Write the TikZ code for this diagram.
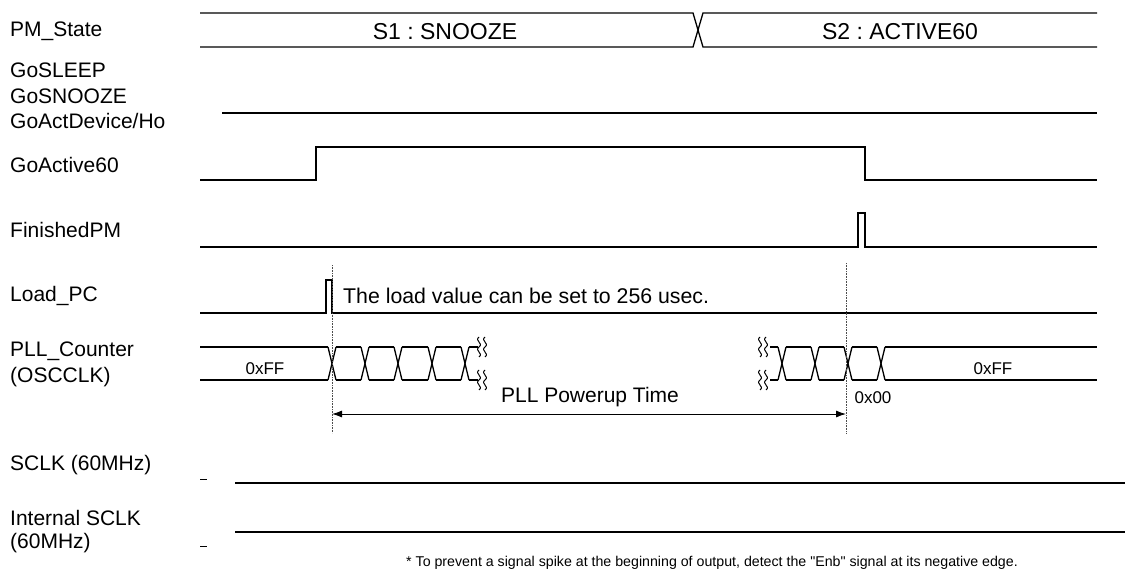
\documentclass[tikz,border=0pt]{standalone}
\usepackage{fontspec}
\setmainfont{Liberation Sans}
\usepackage{tikz}
\usetikzlibrary{arrows.meta,positioning}
\tikzset{
  wave/.style={line width=1.3pt, line join=miter},
  lbl/.style={anchor=west, inner sep=0, font=\fontsize{21}{25}\selectfont, align=left},
  statelbl/.style={inner sep=0, font=\fontsize{23}{26}\selectfont},
  buslbl/.style={inner sep=0, font=\fontsize{17}{20}\selectfont},
  marker/.style={densely dotted, line width=0.6pt, black!70},
}
\frenchspacing
% small wavy break mark on a bus rail
\newcommand{\wavybreak}[2]{%
  \foreach \dx in {0,6}{%
    \draw[line width=1pt] (#1+\dx,#2-10) .. controls (#1+\dx-5,#2-6) and (#1+\dx+5,#2-4) .. (#1+\dx,#2)
      .. controls (#1+\dx-5,#2+4) and (#1+\dx+5,#2+6) .. (#1+\dx,#2+10);}}

\begin{document}
\begin{tikzpicture}[x=1pt, y=-1pt]
      \useasboundingbox (0,0) rectangle (1125,570);
      % Signal names
      \node[lbl] (pmstate) at (10,31) {PM\_State};
      \node[lbl] (gosleep) at (10,70) {GoSLEEP};
      \node[lbl] (gosnooze) at (10,96) {GoSNOOZE};
      \node[lbl] (goactdev) at (10,121) {GoActDevice/Ho};
      \node[lbl] (goact) at (10,165) {GoActive60};
      \node[lbl] (finpm) at (10,230) {FinishedPM};
      \node[lbl] (loadpc) at (10,296) {Load\_PC};
      \node[lbl] (pllcnt) at (10,351) {PLL\_Counter};
      \node[lbl] (oscclk) at (10,377) {(OSCCLK)};
      \node[lbl] (sclk) at (10,465) {SCLK (60MHz)};
      \node[lbl] (isclk) at (10,518) {Internal SCLK};
      \node[lbl] (isclkf) at (10,543) {(60MHz)};
      % PM_State bus
      \draw[wave] (200,13) -- (693,13) -- (703,47) -- (1097,47);
      \draw[wave] (200,47) -- (693,47) -- (703,13) -- (1097,13);
      \node[statelbl] (snooze) at (445,32) {S1 : SNOOZE};
      \node[statelbl] (active) at (900,32) {S2 : ACTIVE60};
      % GoSLEEP / GoSNOOZE / GoActDevice
      \draw[wave] (222,113) -- (1097,113);
      % GoActive60
      \draw[wave] (200,180) -- (316,180) -- (316,147) -- (865,147) -- (865,180) -- (1097,180);
      % FinishedPM
      \draw[wave] (200,247) -- (858,247) -- (858,213) -- (865,213) -- (865,247) -- (1097,247);
      % Load_PC
      \draw[wave] (200,313) -- (326,313) -- (326,280) -- (332,280) -- (332,313) -- (1097,313);
      \node[lbl, font=\fontsize{21.3}{25}\selectfont] (loadnote) at (343,296) {The load value can be set to 256 usec.};
      % PLL_Counter, left part
      \draw[wave] (200,347) -- (328,347);
      \draw[wave] (200,380) -- (328,380);
      \node[buslbl] (ffleft) at (265,369) {0xFF};
      \foreach \c in {332,365,398,432,465}{
        \draw[wave] (\c-4,347) -- (\c+4,380);
        \draw[wave] (\c-4,380) -- (\c+4,347);
      }
      \foreach \a/\b in {336/361,369/394,402/428,436/461,469/478}{
        \draw[wave] (\a,347) -- (\b,347);
        \draw[wave] (\a,380) -- (\b,380);
      }
      \wavybreak{479}{347}
      \wavybreak{479}{380}
      % PLL_Counter, right part
      \wavybreak{760}{347}
      \wavybreak{760}{380}
      \foreach \c in {782,815,848,881}{
        \draw[wave] (\c-4,347) -- (\c+4,380);
        \draw[wave] (\c-4,380) -- (\c+4,347);
      }
      \foreach \a/\b in {770/778,786/811,819/844,852/877,885/1097}{
        \draw[wave] (\a,347) -- (\b,347);
        \draw[wave] (\a,380) -- (\b,380);
      }
      \node[buslbl] (ffright) at (993,369) {0xFF};
      \node[buslbl] (zero) at (873,398) {0x00};
      % Powerup time markers
      \coordinate (ldtop) at (332,265);
      \coordinate (ldbot) at (332,433);
      \coordinate (endtop) at (846,263);
      \coordinate (endbot) at (846,433);
      \draw[marker] (ldtop) -- (ldbot);
      \draw[marker] (endtop) -- (endbot);
      \coordinate (tstart) at (332,414);
      \coordinate (tend) at (846,414);
      \draw[line width=0.9pt, {Latex[length=10pt,width=7pt]}-{Latex[length=10pt,width=7pt]}] (tstart) -- (tend);
      \node[lbl, anchor=center] (powerup) at (590,397) {PLL Powerup Time};
      % SCLK
      \draw[line width=0.9pt] (200,479) -- (207,479);
      \draw[wave] (235,483) -- (1125,483);
      % Internal SCLK
      \draw[line width=0.9pt] (200,546) -- (207,546);
      \draw[wave] (235,532) -- (1125,532);
      % Footnote
      \node[inner sep=0, font=\fontsize{14.2}{16}\selectfont] (note) at (712,563) {* To prevent a signal spike at the beginning of output, detect the \textquotedbl Enb\textquotedbl{} signal at its negative edge.};
\end{tikzpicture}
\end{document}
